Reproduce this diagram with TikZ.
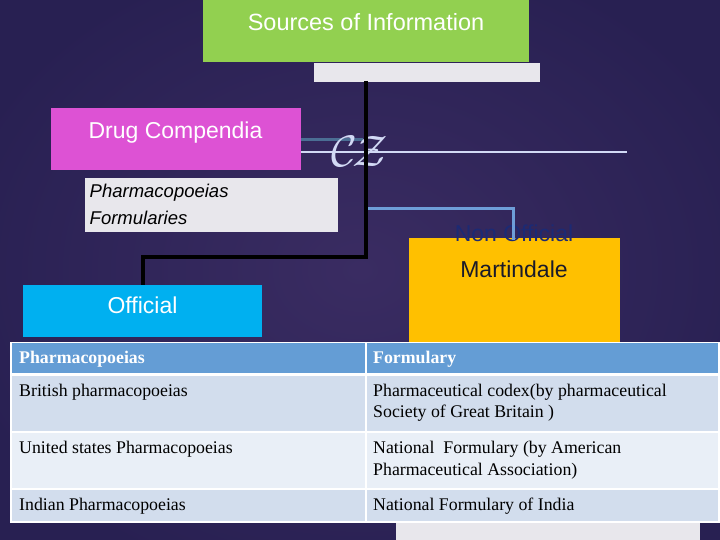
\documentclass[tikz,border=0pt]{standalone}
\usepackage{fontspec}
\setmainfont{Liberation Serif}
\setsansfont{Liberation Sans}
\definecolor{bgin}{HTML}{3A2C62}
\definecolor{bgout}{HTML}{282052}
\definecolor{srcgreen}{HTML}{92D050}
\definecolor{bargray}{HTML}{E8E7EC}
\definecolor{pinkbox}{HTML}{DD52D4}
\definecolor{yelbox}{HTML}{FFC000}
\definecolor{cyanbox}{HTML}{00B0F0}
\definecolor{hdrblue}{HTML}{649DD5}
\definecolor{rowdark}{HTML}{D2DDED}
\definecolor{rowlight}{HTML}{E9EFF7}
\definecolor{connblue}{HTML}{6E9ED8}
\definecolor{steel}{HTML}{4B6E94}
\definecolor{lavline}{HTML}{D2DAF5}
\definecolor{navytxt}{HTML}{1C2A74}
\definecolor{darktxt}{HTML}{1A1A2A}
\tikzset{
  box/.style={rectangle, inner sep=0pt, outer sep=0pt, anchor=north west, draw=none},
  bigtxt/.style={inner sep=0pt, anchor=base, font=\fontsize{23}{23}\selectfont\sffamily},
  itxt/.style={inner sep=0pt, anchor=base west, font=\fontsize{18.5}{18.5}\selectfont\sffamily\itshape},
  celltxt/.style={inner sep=0pt, anchor=base west, font=\fontsize{17.8}{17.8}\selectfont\rmfamily},
  hdrtxt/.style={inner sep=0pt, anchor=base west, text=white, font=\fontsize{17.8}{17.8}\selectfont\rmfamily\bfseries},
  blackconn/.style={draw=black, line width=4pt},
  blueconn/.style={draw=connblue, line width=3pt},
}
\begin{document}
\begin{tikzpicture}[x=1pt,y=-1pt]
\useasboundingbox (0,0) rectangle (720,540);
\shade[inner color=bgin, outer color=bgout] (-60,-60) rectangle (780,600);
% bottom gray strip
\node[box, fill=bargray, minimum width=304pt, minimum height=20pt] (botbar) at (396,522) {};
% title
\node[box, fill=srcgreen, minimum width=326pt, minimum height=62pt] (src) at (203,0) {};
\node[box, fill=bargray, minimum width=226pt, minimum height=19pt] (srcbar) at (314,63) {};
\node[bigtxt, text=white, font=\fontsize{23.5}{23.5}\selectfont\sffamily] (srct) at (366,31) {Sources of Information};
% drug compendia
\node[box, fill=pinkbox, minimum width=250pt, minimum height=62pt] (dc) at (51,108) {};
\node[bigtxt, text=white] (dct) at (175.5,138.3) {Drug Compendia};
\coordinate (steelend) at (363,139.3);
\coordinate (lavend) at (627,152.3);
\draw[steel, line width=3pt] (dc.east |- steelend) -- (steelend);
\draw[lavline, line width=2pt] (dc.east |- lavend) -- (lavend);
\node[inner sep=0pt, text=lavline, scale=4.4] (glyph) at (360,151) {$\mathcal{C}\mkern-2mu\mathcal{Z}$};
% pharmacopoeias box
\node[box, fill=bargray, minimum width=253pt, minimum height=54pt] (ph) at (85,178) {};
\node[itxt] (pht) at (89.5,197) {Pharmacopoeias};
\node[itxt] (fmt) at (89.5,225) {Formularies};
% yellow box
\node[box, fill=yelbox, minimum width=211pt, minimum height=110pt] (yel) at (409,238) {};
% official box
\node[box, fill=cyanbox, minimum width=239pt, minimum height=52pt] (off) at (23,285) {};
\node[bigtxt, text=white] (offt) at (142.5,313) {Official};
% texts under connectors
\node[bigtxt, text=navytxt] (nont) at (514,241) {Non Official};
\node[bigtxt, text=darktxt] (mart) at (514,277) {Martindale};
% connectors
\coordinate (spine) at (366,81);
\coordinate (elbow) at (366,257);
\coordinate (bluestart) at (366,209);
\coordinate (blueend) at (513.5,240);
\draw[blueconn] (bluestart) -| (blueend);
\draw[blackconn] (spine) -- (elbow) -| (off.north);
% table
\node[box, fill=white, minimum width=710pt, minimum height=181pt] (tbl) at (10,341.5) {};
\node[box, fill=hdrblue, minimum width=353pt, minimum height=30pt] (h1) at (11.5,343) {};
\node[box, fill=hdrblue, minimum width=351pt, minimum height=30pt] (h2) at (367,343) {};
\node[box, fill=rowdark, minimum width=353pt, minimum height=54.5pt] (a1) at (11.5,376) {};
\node[box, fill=rowdark, minimum width=351pt, minimum height=54.5pt] (b1) at (367,376) {};
\node[box, fill=rowlight, minimum width=353pt, minimum height=54.5pt] (a2) at (11.5,433) {};
\node[box, fill=rowlight, minimum width=351pt, minimum height=54.5pt] (b2) at (367,433) {};
\node[box, fill=rowdark, minimum width=353pt, minimum height=31pt] (a3) at (11.5,490) {};
\node[box, fill=rowdark, minimum width=351pt, minimum height=31pt] (b3) at (367,490) {};
\node[hdrtxt] (h1t) at (19,363) {Pharmacopoeias};
\node[hdrtxt] (h2t) at (373,363) {Formulary};
\node[celltxt] (a1t) at (19,396) {British pharmacopoeias};
\node[celltxt] (b1t) at (373,396) {Pharmaceutical codex(by pharmaceutical};
\node[celltxt] (b1u) at (373,417) {Society of Great Britain )};
\node[celltxt] (a2t) at (19,453) {United states Pharmacopoeias};
\node[celltxt] (b2t) at (373,453) {National\ \ Formulary (by American};
\node[celltxt] (b2u) at (373,475) {Pharmaceutical Association)};
\node[celltxt] (a3t) at (19,510) {Indian Pharmacopoeias};
\node[celltxt] (b3t) at (373,510) {National Formulary of India};
\end{tikzpicture}
\end{document}
